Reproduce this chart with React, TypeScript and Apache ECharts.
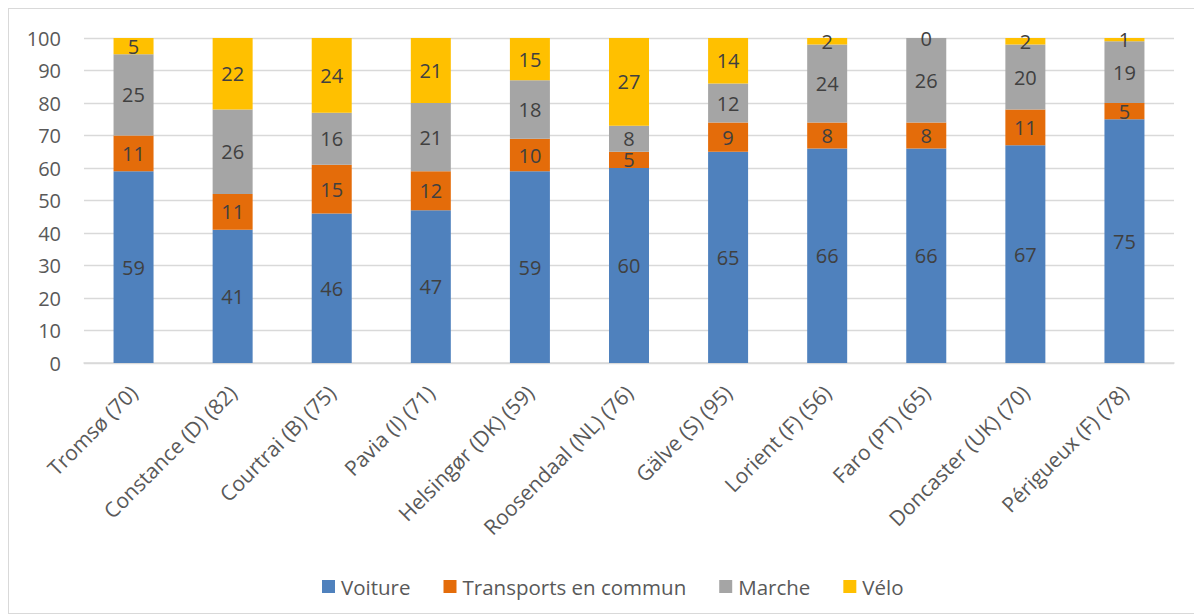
import React, { useEffect, useRef } from "react";
import * as echarts from "echarts";

const categories = [
  "Tromsø (70)",
  "Constance (D) (82)",
  "Courtrai (B) (75)",
  "Pavia (I) (71)",
  "Helsingør (DK) (59)",
  "Roosendaal (NL) (76)",
  "Gälve (S) (95)",
  "Lorient (F) (56)",
  "Faro (PT) (65)",
  "Doncaster (UK) (70)",
  "Périgueux (F) (78)",
];
const voiture = [59, 41, 46, 47, 59, 60, 65, 66, 66, 67, 75];
const transports = [11, 11, 15, 12, 10, 5, 9, 8, 8, 11, 5];
const marche = [25, 26, 16, 21, 18, 8, 12, 24, 26, 20, 19];
const velo = [5, 22, 24, 21, 15, 27, 14, 2, 0, 2, 1];

const seriesNames = ["Voiture", "Transports en commun", "Marche", "Vélo"];
const seriesColors = ["#4F81BD", "#E46C0A", "#A5A5A5", "#FFC000"];

const FONT = "'Open Sans', 'Noto Sans', sans-serif";

export default function App() {
  const ref = useRef<HTMLDivElement>(null);
  useEffect(() => {
    if (!ref.current) return;
    const chart = echarts.init(ref.current, undefined, { renderer: "svg" });
    const data = [voiture, transports, marche, velo];
    chart.setOption({
      animation: false,
      textStyle: { fontFamily: FONT },
      grid: { left: 75, right: 27, top: 29, bottom: 250, containLabel: false },
      legend: {
        left: 308,
        top: 562,
        itemWidth: 13,
        itemHeight: 13,
        itemGap: 33,
        icon: "rect",
        textStyle: { fontSize: 20.5, color: "#595959", fontFamily: FONT, padding: [0, 0, 0, 1] },
        data: seriesNames,
      },
      xAxis: {
        type: "category",
        data: categories,
        axisLine: { lineStyle: { color: "#D9D9D9", width: 1.5 } },
        axisTick: { show: false },
        axisLabel: {
          rotate: 45,
          interval: 0,
          fontSize: 21,
          color: "#595959",
          margin: 26,
          fontFamily: FONT,
        },
      },
      yAxis: {
        type: "value",
        min: 0,
        max: 100,
        interval: 10,
        axisLine: { show: false },
        axisTick: { show: false },
        axisLabel: { fontSize: 20, color: "#595959", margin: 23, fontFamily: FONT },
        splitLine: { lineStyle: { color: "#D9D9D9", width: 1.3 } },
      },
      series: seriesNames.map((name, i) => ({
        name,
        type: "bar",
        stack: "total",
        barWidth: 40,
        data: data[i],
        itemStyle: { color: seriesColors[i] },
        label: {
          show: true,
          position: "inside",
          fontSize: 20,
          color: "#404040",
          fontFamily: FONT,
        },
      })),
    });
    return () => chart.dispose();
  }, []);
  return (
    <div
      ref={ref}
      style={{
        width: 1194,
        height: 606,
        border: "1px solid #D9D9D9",
        boxSizing: "border-box",
        background: "#fff",
      }}
    />
  );
}
